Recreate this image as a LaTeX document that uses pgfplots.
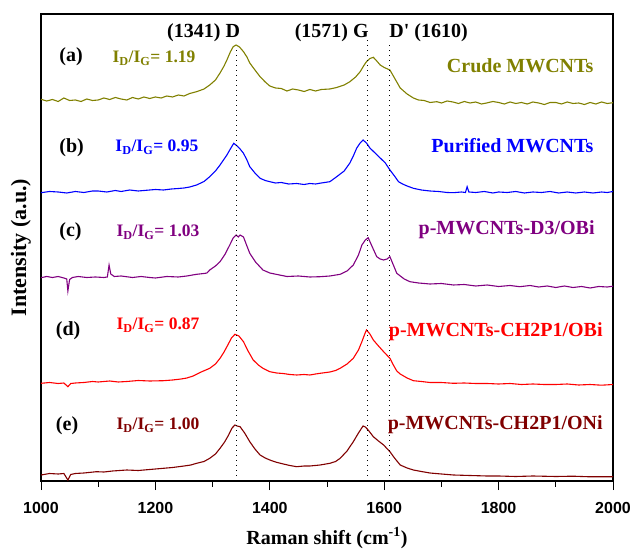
\documentclass[border=0pt]{standalone}
\usepackage{pgfplots}
\pgfplotsset{compat=1.18}
\usepackage{fontspec}
\setmainfont{Liberation Serif}
\newfontfamily\arialfont{Liberation Sans}
\definecolor{cA}{RGB}{128,128,0}
\definecolor{cB}{RGB}{0,0,255}
\definecolor{cC}{RGB}{128,0,128}
\definecolor{cD}{RGB}{255,0,0}
\definecolor{cE}{RGB}{128,0,0}
\newcommand{\lbl}{\bfseries\fontsize{20bp}{24bp}\selectfont}
\newcommand{\rat}{\bfseries\fontsize{17.5bp}{20bp}\selectfont}
\begin{document}
\begin{tikzpicture}
\begin{axis}[name=ax, scale only axis, width=572bp, height=467bp,
  xmin=1000, xmax=2000, ymin=0, ymax=467,
  ytick=\empty, xtick={1000,1200,...,2000}, minor x tick num=1,
  xtick pos=bottom, tick align=outside,
  major tick length=9bp, minor tick length=5.7bp,
  axis line style={line width=1.1bp},
  tick style={black, line width=0.9bp},
  xticklabel={\pgfmathprintnumber[assume math mode=true,1000 sep={}]{\tick}},
  xticklabel style={font=\arialfont\bfseries\fontsize{16bp}{18bp}\selectfont, yshift=-9bp},
  /pgf/number format/assume math mode=true, /pgf/number format/1000 sep={},
  clip=false]
% (a) crude
\addplot[cA, line width=1.1bp] coordinates {
(1000,381.7)(1010,380)(1020,381.5)(1030,379.5)(1040,383)(1050,380.5)(1060,381)(1070,379.5)(1080,382)(1090,380.5)
(1100,381)(1110,383)(1120,381.5)(1130,383.5)(1140,382)(1150,381)(1160,383.5)(1170,382)(1180,384)(1190,382.5)
(1200,384)(1210,383)(1220,385)(1230,384)(1240,386)(1250,385)(1260,387.5)(1272,389.3)(1285,392)(1295,396)
(1305,401)(1313,408)(1320,415)(1325,421)(1331,429)(1336,434.3)(1341,436)(1347,434)(1354,429.3)(1360,424)
(1365,418)(1374,411)(1383,404.3)(1392,399)(1400,395)(1410,393)(1420,392.5)(1430,390)(1440,392)(1450,391)
(1460,389.5)(1470,391.5)(1480,390)(1490,391.5)(1505,392)(1517,393.5)(1530,396)(1540,399.3)(1550,404)(1558,409.3)
(1565,416)(1569,419.3)(1575,422.5)(1581,423.7)(1587,420)(1593,416)(1600,413.5)(1610,411)(1618,403)(1628,393)
(1640,387)(1651,383)(1660,381)(1670,380.5)(1680,378.5)(1692,379.3)(1700,378)(1710,380)(1720,379)(1730,377.5)
(1740,379.5)(1750,378)(1760,379)(1770,377)(1779,378)(1790,379.5)(1800,378.5)(1810,377)(1820,379)(1830,377.5)
(1840,378.5)(1850,377)(1860,379)(1870,378)(1880,376.5)(1890,378.5)(1900,378.5)(1910,377)(1920,379)(1930,377.5)
(1940,378)(1950,376.5)(1960,378.5)(1970,377)(1980,379)(1990,377.5)(2000,378.3)};
% (b) purified
\addplot[cB, line width=1.1bp] coordinates {
(1000,288.3)(1015,289.5)(1030,289)(1045,288)(1060,289.5)(1075,288.5)(1090,290)(1100,290)(1115,289)(1130,290.5)
(1140,289.5)(1155,291)(1170,290)(1180,290.5)(1200,291.5)(1214,291)(1228,292)(1240,292.5)(1250,293)(1260,294)
(1272,296)(1285,299.5)(1295,304.3)(1305,310)(1313,316)(1319,321)(1325,326)(1331,332)(1337,337.7)(1343,335)
(1348,332)(1354,327.7)(1360,321)(1365,314.3)(1374,308)(1383,302.7)(1392,300.5)(1400,299.3)(1410,298)(1420,298.5)
(1433,297)(1447,297.5)(1460,296.5)(1470,297.5)(1480,297)(1490,298)(1505,299.3)(1517,304.3)(1530,310)(1540,318)
(1546,325)(1552,333)(1558,338)(1563,341)(1569,338)(1575,333)(1584,328)(1593,323)(1602,318)(1610,311)
(1618,305)(1625,299.3)(1632,297)(1640,295)(1651,292.7)(1665,291)(1680,290)(1695,289.5)(1710,288.5)(1721,288.3)
(1735,289)(1742,288.5)(1745,294.3)(1748,289)(1760,288.5)(1775,289.5)(1790,288)(1800,289)(1815,288.5)(1830,289.5)
(1845,288)(1860,289)(1875,288.5)(1890,289.5)(1905,288)(1920,289)(1935,288)(1950,289)(1965,288)(1980,289)
(1990,288.5)(2000,289.5)};
% (c) D3/OBi
\addplot[cC, line width=1.1bp] coordinates {
(1000,203.3)(1010,204.5)(1020,203.5)(1030,204.5)(1040,203)(1045,202)(1047,190)(1050,201.5)(1055,203.5)(1065,204.5)
(1080,203.5)(1095,204)(1110,203.5)(1116,204)(1119,216)(1122,207)(1128,204.5)(1140,205)(1160,203.5)(1175,204.5)
(1190,203.5)(1200,203)(1220,204.5)(1240,204)(1255,205)(1272,206.7)(1285,207.5)(1290,208)(1295,211)(1305,215)
(1313,219.3)(1322,227)(1330,236)(1336,243)(1341,246)(1345,244)(1348,246)(1354,244)(1360,235)(1365,227.7)
(1375,219)(1388,211)(1400,208)(1417,206)(1430,204.5)(1450,205)(1470,204)(1488,204.3)(1505,205)(1523,206.7)
(1535,210)(1546,216)(1555,226)(1561,236)(1567,241)(1572,243.3)(1580,233)(1587,224.3)(1593,222)(1599,221)
(1605,222)(1610,224.3)(1616,216)(1622,207.7)(1635,202)(1645,199.3)(1660,198)(1680,197)(1700,197.5)(1721,196)
(1740,196.5)(1760,195)(1780,196)(1800,194.5)(1820,195.5)(1837,194.3)(1855,195.5)(1870,194)(1885,195)(1900,193.5)
(1915,195)(1930,193.5)(1945,194.5)(1960,193)(1975,194.5)(1990,194)(2000,194.8)};
% (d) CH2P1/OBi
\addplot[cD, line width=1.1bp] coordinates {
(1000,97.7)(1015,98.5)(1030,97.5)(1040,98)(1047,94.3)(1052,97.5)(1060,98)(1075,98.5)(1090,99.5)(1100,99)
(1120,100)(1135,99)(1150,99.5)(1170,100.5)(1190,100)(1214,100.3)(1230,101)(1245,102)(1255,103)(1266,105)
(1280,109)(1295,112.7)(1305,117)(1313,122.7)(1320,129)(1325,134.3)(1333,143)(1339,146.7)(1346,145)(1354,139.3)
(1362,130)(1371,121)(1380,116)(1388,112.7)(1400,109.3)(1412,108)(1423,107.5)(1435,106.5)(1447,106)(1460,106.5)
(1470,106)(1480,107)(1488,107.7)(1505,109)(1515,110.5)(1523,112.7)(1535,117)(1546,122.7)(1555,131)(1561,139.3)
(1566,147)(1569,151)(1575,147)(1581,141)(1590,135)(1599,129.3)(1610,122.7)(1616,116)(1622,110)(1628,107)
(1640,103)(1651,100.3)(1665,99.5)(1680,98.5)(1700,98.5)(1721,97.7)(1740,98)(1760,97.5)(1780,97.5)(1800,97)
(1820,97.5)(1840,96.5)(1860,97)(1880,96.5)(1900,96.5)(1920,97)(1940,96)(1960,96.5)(1980,95.8)(2000,96.5)};
% (e) CH2P1/ONi
\addplot[cE, line width=1.1bp] coordinates {
(1000,6)(1015,7.5)(1030,7)(1040,7.5)(1047,1)(1052,6.5)(1060,7.5)(1075,8)(1097,9.3)(1110,9)
(1125,10)(1150,11)(1170,10.5)(1190,11.5)(1214,12.7)(1230,13.5)(1250,15)(1262,16)(1272,17.7)(1285,19.5)
(1295,22.7)(1305,27)(1313,32.7)(1321,39)(1328,46)(1334,53)(1339,56)(1343,55)(1348,54.3)(1356,48)
(1365,39.3)(1374,32)(1383,26)(1392,23)(1400,21)(1410,19)(1420,17.5)(1435,15.5)(1447,14.3)(1460,15)
(1470,15)(1488,16)(1505,17.7)(1515,19.5)(1523,22.7)(1535,30)(1546,39.3)(1555,48)(1563,55)(1567,54)
(1572,51)(1581,44.3)(1590,40)(1599,36)(1610,29.3)(1618,23)(1628,16)(1640,13)(1651,11)(1665,9.5)
(1680,8)(1700,7)(1721,6)(1750,5.5)(1780,5)(1800,5)(1830,4.5)(1860,5)(1900,4.5)(1930,4.8)
(1960,4.2)(2000,4.3)};
% peak guide lines
\addplot[black, line width=1.1bp, dash pattern=on 1.2bp off 3.8bp] coordinates {(1341,0)(1341,434)};
\addplot[black, line width=1.1bp, dash pattern=on 1.2bp off 3.8bp] coordinates {(1571,0)(1571,443)};
\addplot[black, line width=1.1bp, dash pattern=on 1.2bp off 3.8bp] coordinates {(1610,0)(1610,439)};
% peak labels
\node[anchor=base east, font=\lbl] at (axis cs:1354,443) {(1341) D};
\node[anchor=base east, font=\lbl] at (axis cs:1579,443) {(1571) G};
\node[anchor=base west, font=\lbl] at (axis cs:1603,443) {D\textquotesingle{} (1610)};
% row labels
\node[anchor=base west, font=\lbl] at (axis cs:1026,419) {(a)};
\node[anchor=base west, font=\lbl] at (axis cs:1026,328) {(b)};
\node[anchor=base west, font=\lbl] at (axis cs:1026,244) {(c)};
\node[anchor=base west, font=\lbl] at (axis cs:1020,145) {(d)};
\node[anchor=base west, font=\lbl] at (axis cs:1020,50) {(e)};
\node[anchor=base west, font=\rat, text=cA] at (axis cs:1119,418) {I\textsubscript{D}/I\textsubscript{G}= 1.19};
\node[anchor=base west, font=\rat, text=cB] at (axis cs:1124,329) {I\textsubscript{D}/I\textsubscript{G}= 0.95};
\node[anchor=base west, font=\rat, text=cC] at (axis cs:1126,244) {I\textsubscript{D}/I\textsubscript{G}= 1.03};
\node[anchor=base west, font=\rat, text=cD] at (axis cs:1126,151) {I\textsubscript{D}/I\textsubscript{G}= 0.87};
\node[anchor=base west, font=\rat, text=cE] at (axis cs:1126,51) {I\textsubscript{D}/I\textsubscript{G}= 1.00};
\node[anchor=base east, font=\lbl, text=cA] at (axis cs:1972,408) {Crude MWCNTs};
\node[anchor=base east, font=\lbl, text=cB] at (axis cs:1972,328) {Purified MWCNTs};
\node[anchor=base east, font=\lbl, text=cC] at (axis cs:1974,246) {p-MWCNTs-D3/OBi};
\node[anchor=base east, font=\lbl, text=cD] at (axis cs:1988,144) {p-MWCNTs-CH2P1/OBi};
\node[anchor=base east, font=\lbl, text=cE] at (axis cs:1988,51) {p-MWCNTs-CH2P1/ONi};
% axis labels
\node[anchor=base, font=\lbl] at (axis cs:1500,-63) {Raman shift (cm\textsuperscript{-1})};
\node[rotate=90, anchor=center, font=\bfseries\fontsize{22bp}{26bp}\selectfont] at (axis description cs:-0.035,0.5) {Intensity (a.u.)};
\end{axis}
\pgfresetboundingbox
\path[use as bounding box] ([xshift=-41bp,yshift=-68bp]ax.south west) rectangle ([xshift=18bp,yshift=14bp]ax.north east);
\end{tikzpicture}
\end{document}
